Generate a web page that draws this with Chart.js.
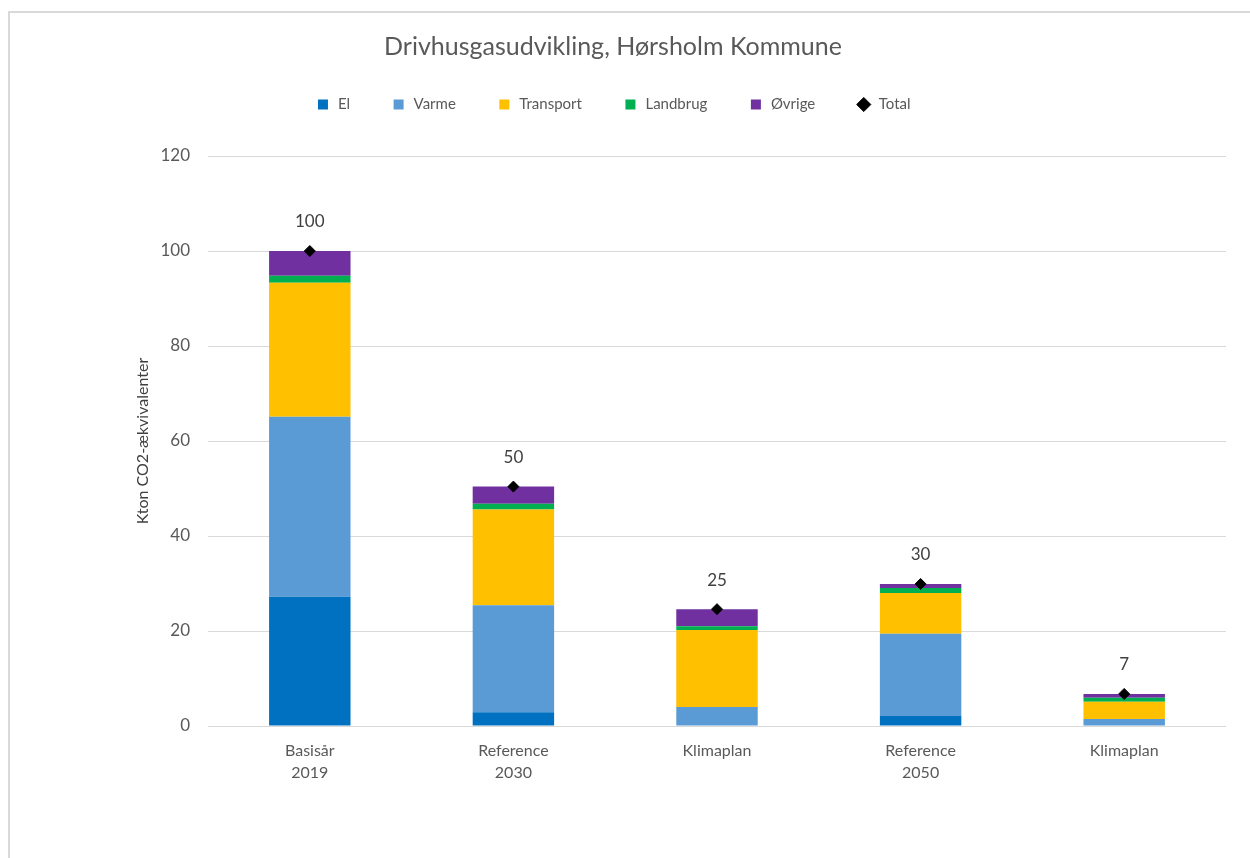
<!DOCTYPE html>
<html>
<head>
<meta charset="utf-8">
<script src="https://cdn.jsdelivr.net/npm/chart.js@4"></script>
<style>
  body { margin: 0; background: #fff; }
  #wrap { position: relative; width: 1250px; height: 858px; }
  #frame { position: absolute; left: 8px; top: 11px; right: 0; bottom: 0;
           border-left: 2px solid #d9d9d9; border-top: 2px solid #d9d9d9; }
  canvas { position: absolute; left: 0; top: 0; }
</style>
</head>
<body>
<div id="wrap">
  <div id="frame"></div>
  <canvas id="myChart" width="1250" height="858"></canvas>
</div>
<script>
// categories
var categories = [['Basisår', '2019'], ['Reference', '2030'], 'Klimaplan', ['Reference', '2050'], 'Klimaplan'];

// series values (kton CO2-ækvivalenter)
var el        = [27.2, 2.9, 0, 2.1, 0];
var varme     = [37.9, 22.5, 4.0, 17.3, 1.5];
var transport = [28.2, 20.2, 16.2, 8.6, 3.6];
var landbrug  = [1.5, 1.2, 0.8, 1.05, 0.85];
var ovrige    = [5.2, 3.6, 3.6, 0.85, 0.8];
var total     = [100, 50.4, 24.6, 29.9, 6.75];

// y axis ticks
var yMin = 0, yMax = 120, yStep = 20;

var fontName = 'Lato';
var grey = '#595959';

// writes the total above each diamond
var totalLabels = {
  id: 'totalLabels',
  afterDatasetsDraw(chart) {
    var meta = chart.getDatasetMeta(5);
    var ctx = chart.ctx;
    ctx.save();
    ctx.font = '17px ' + fontName;
    ctx.fillStyle = '#404040';
    ctx.textAlign = 'center';
    ctx.textBaseline = 'middle';
    meta.data.forEach(function(pt, i) {
      ctx.fillText(Math.round(total[i]).toString(), pt.x, pt.y - 29);
    });
    ctx.restore();
  }
};

// more room under the legend
var legendGap = {
  id: 'legendGap',
  beforeInit(chart) {
    var fit = chart.legend.fit;
    chart.legend.fit = function() {
      fit.bind(chart.legend)();
      this.height += 34;
    };
  }
};

function barSet(label, data, color) {
  return {
    type: 'bar',
    label: label,
    data: data,
    backgroundColor: color,
    borderWidth: 0,
    pointStyle: 'rect',
    stack: 'parts',
    categoryPercentage: 1,
    barPercentage: 0.4
  };
}

var myChart = new Chart('myChart', {
  data: {
    labels: categories,
    datasets: [
      barSet('El', el, '#0070C0'),
      barSet('Varme', varme, '#5B9BD5'),
      barSet('Transport', transport, '#FFC000'),
      barSet('Landbrug', landbrug, '#00B050'),
      barSet('Øvrige', ovrige, '#7030A0'),
      {
        type: 'line',
        label: 'Total',
        data: total,
        stack: 'total',
        showLine: false,
        pointStyle: 'rectRot',
        pointRadius: 5.5,
        pointBackgroundColor: '#000',
        pointBorderColor: '#000',
        backgroundColor: '#000',
        borderColor: '#000',
        order: -1
      }
    ]
  },
  options: {
    responsive: false,
    animation: false,
    layout: { padding: { left: 0, right: 24, top: 0, bottom: 0 } },
    plugins: {
      title: {
        display: true,
        text: 'Drivhusgasudvikling, Hørsholm Kommune',
        color: grey,
        font: { family: fontName, size: 25, weight: 'normal' },
        padding: { top: 32, bottom: -6 }
      },
      legend: {
        display: true,
        labels: {
          usePointStyle: true,
          boxHeight: 10,
          color: grey,
          font: { family: fontName, size: 15 },
          padding: 41,
          sort: function(a, b) { return a.datasetIndex - b.datasetIndex; }
        }
      },
      tooltip: { enabled: false }
    },
    scales: {
      x: {
        stacked: true,
        grid: { display: false },
        border: { display: false },
        ticks: { color: grey, font: { family: fontName, size: 16, lineHeight: 1.35 }, padding: 6, maxRotation: 0 },
        afterFit: function(scale) { scale.height = 132; }
      },
      y: {
        stacked: true,
        min: yMin,
        max: yMax,
        ticks: { stepSize: yStep, color: grey, font: { family: fontName, size: 17 }, padding: 18 },
        grid: { color: '#d9d9d9', tickLength: 0 },
        border: { display: false },
        title: {
          display: true,
          text: 'Kton CO2-ækvivalenter',
          color: '#404040',
          font: { family: fontName, size: 16 },
          padding: { top: 133, bottom: 0 }
        },
        afterFit: function(scale) { scale.width = 208; }
      }
    }
  },
  plugins: [totalLabels, legendGap]
});
</script>
</body>
</html>
